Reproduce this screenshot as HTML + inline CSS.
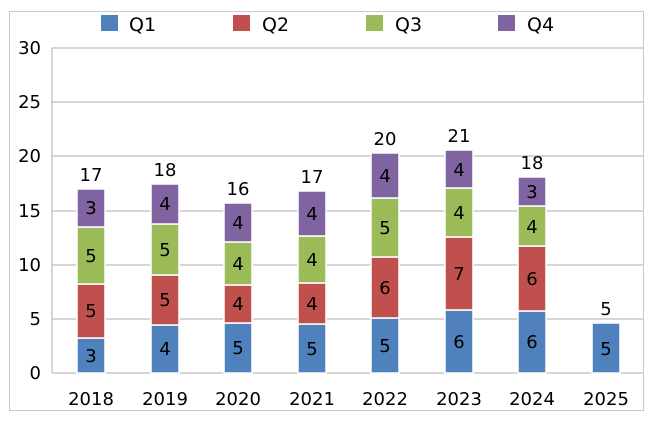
<!DOCTYPE html>
<html><head><style>body{margin:0;background:#fff}svg{display:block}</style></head><body>
<svg width="656" height="424" xmlns="http://www.w3.org/2000/svg" font-family="'DejaVu Sans','Liberation Sans',sans-serif">
<rect x="9.5" y="11.5" width="634" height="399" fill="#fff" stroke="#c8c8c8"/>
<g stroke="#bdbdbd" stroke-width="1.2">
<line x1="52" y1="48" x2="643" y2="48"/><line x1="52" y1="102" x2="643" y2="102"/><line x1="52" y1="156" x2="643" y2="156"/><line x1="52" y1="211" x2="643" y2="211"/><line x1="52" y1="265" x2="643" y2="265"/><line x1="52" y1="319" x2="643" y2="319"/><line x1="52" y1="373" x2="643" y2="373"/>
<line x1="52" y1="48" x2="52" y2="373"/>
</g>
<g font-size="18" fill="#000" text-anchor="end">
<text x="41" y="54">30</text><text x="41" y="108">25</text><text x="41" y="162">20</text><text x="41" y="217">15</text><text x="41" y="271">10</text><text x="41" y="325">5</text><text x="41" y="379">0</text>
</g>
<g font-size="19">
<rect x="101" y="15" width="17" height="16" fill="#4f81bd"/><text x="129" y="31">Q1</text>
<rect x="233" y="15" width="17" height="16" fill="#c0504d"/><text x="262" y="31">Q2</text>
<rect x="366" y="15" width="17" height="16" fill="#9bbb59"/><text x="395" y="31">Q3</text>
<rect x="498" y="15" width="17" height="16" fill="#8064a2"/><text x="527" y="31">Q4</text>
</g>
<g stroke="#fff" stroke-width="1.5">
<rect x="77" y="338" width="28" height="35" fill="#4f81bd"/><rect x="77" y="284" width="28" height="54" fill="#c0504d"/><rect x="77" y="227" width="28" height="57" fill="#9bbb59"/><rect x="77" y="189" width="28" height="38" fill="#8064a2"/>
<rect x="151" y="325" width="28" height="48" fill="#4f81bd"/><rect x="151" y="275" width="28" height="50" fill="#c0504d"/><rect x="151" y="224" width="28" height="51" fill="#9bbb59"/><rect x="151" y="184" width="28" height="40" fill="#8064a2"/>
<rect x="224" y="323" width="28" height="50" fill="#4f81bd"/><rect x="224" y="285" width="28" height="38" fill="#c0504d"/><rect x="224" y="242" width="28" height="43" fill="#9bbb59"/><rect x="224" y="203" width="28" height="39" fill="#8064a2"/>
<rect x="298" y="324" width="28" height="49" fill="#4f81bd"/><rect x="298" y="283" width="28" height="41" fill="#c0504d"/><rect x="298" y="236" width="28" height="47" fill="#9bbb59"/><rect x="298" y="191" width="28" height="45" fill="#8064a2"/>
<rect x="371" y="318" width="28" height="55" fill="#4f81bd"/><rect x="371" y="257" width="28" height="61" fill="#c0504d"/><rect x="371" y="198" width="28" height="59" fill="#9bbb59"/><rect x="371" y="153" width="28" height="45" fill="#8064a2"/>
<rect x="445" y="310" width="28" height="63" fill="#4f81bd"/><rect x="445" y="237" width="28" height="73" fill="#c0504d"/><rect x="445" y="188" width="28" height="49" fill="#9bbb59"/><rect x="445" y="150" width="28" height="38" fill="#8064a2"/>
<rect x="518" y="311" width="28" height="62" fill="#4f81bd"/><rect x="518" y="246" width="28" height="65" fill="#c0504d"/><rect x="518" y="206" width="28" height="40" fill="#9bbb59"/><rect x="518" y="177" width="28" height="29" fill="#8064a2"/>
<rect x="592" y="323" width="28" height="50" fill="#4f81bd"/>
</g>
<g font-size="18" text-anchor="middle" fill="#000">
<text x="91" y="362">3</text><text x="91" y="317">5</text><text x="91" y="262">5</text><text x="91" y="214">3</text><text x="91" y="181">17</text>
<text x="165" y="355">4</text><text x="165" y="306">5</text><text x="165" y="256">5</text><text x="165" y="210">4</text><text x="165" y="176">18</text>
<text x="238" y="354">5</text><text x="238" y="310">4</text><text x="238" y="270">4</text><text x="238" y="229">4</text><text x="238" y="195">16</text>
<text x="312" y="355">5</text><text x="312" y="310">4</text><text x="312" y="266">4</text><text x="312" y="220">4</text><text x="312" y="183">17</text>
<text x="385" y="352">5</text><text x="385" y="294">6</text><text x="385" y="234">5</text><text x="385" y="182">4</text><text x="385" y="145">20</text>
<text x="459" y="348">6</text><text x="459" y="280">7</text><text x="459" y="219">4</text><text x="459" y="176">4</text><text x="459" y="142">21</text>
<text x="532" y="348">6</text><text x="532" y="285">6</text><text x="532" y="233">4</text><text x="532" y="198">3</text><text x="532" y="169">18</text>
<text x="606" y="355">5</text><text x="606" y="315">5</text>
</g>
<g font-size="18" text-anchor="middle" fill="#000">
<text x="91" y="405">2018</text><text x="165" y="405">2019</text><text x="238" y="405">2020</text><text x="312" y="405">2021</text><text x="385" y="405">2022</text><text x="459" y="405">2023</text><text x="532" y="405">2024</text><text x="606" y="405">2025</text>
</g>
</svg>
</body></html>
